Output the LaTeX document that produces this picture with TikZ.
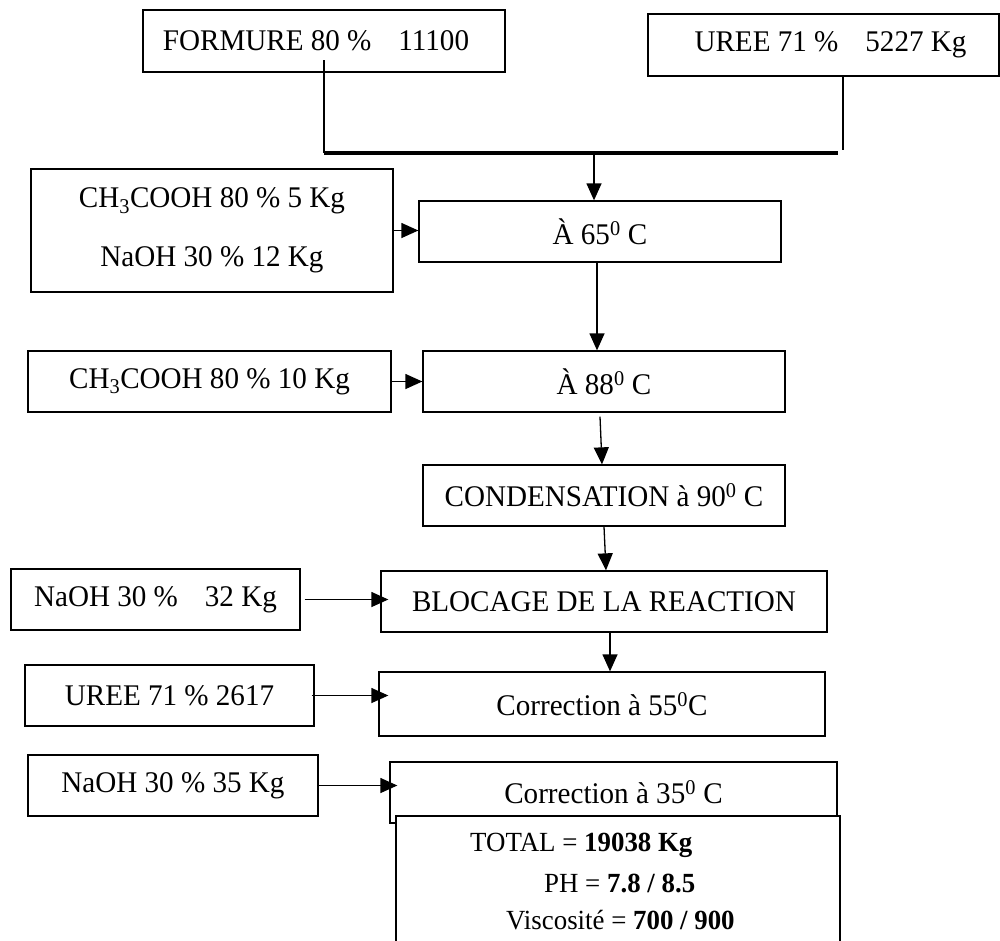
\documentclass[tikz,border=0pt]{standalone}
\usepackage{fontspec}
\setmainfont{Liberation Serif}[FakeStretch=0.97]
\usetikzlibrary{arrows.meta}

\begin{document}
\begin{tikzpicture}[x=1pt,y=-1pt,
  box/.style={draw, line width=1.3pt, rectangle, inner sep=0pt, fill=white,
              font=\fontsize{30}{36}\selectfont},
  sumtxt/.style={inner sep=0pt, font=\fontsize{27.7}{32}\selectfont},
  link/.style={line width=1.3pt},
  arr/.style={line width=1.3pt, -{Triangle[length=17pt,width=15pt]}}]
\useasboundingbox[fill=white] (0,0) rectangle (1000,940);

% raw materials at the top
\node[box, minimum width=362pt, minimum height=62pt] (formure) at (324,41)
  {\hspace*{-16pt}FORMURE 80 \%\hspace{0.9em}11100};
\node[box, minimum width=351pt, minimum height=62pt] (uree) at (823.5,45)
  {\hspace*{14pt}UREE 71 \%\hspace{0.9em}5227 Kg};

% process steps
\node[box, minimum width=362pt, minimum height=123pt, align=center] (mix) at (212,230.5)
  {CH\textsubscript{3}COOH 80 \% 5 Kg\\[23pt]NaOH 30 \% 12 Kg};
\node[box, minimum width=362pt, minimum height=61pt] (a65) at (600,231.5)
  {À 65\textsuperscript{0} C};
\node[box, minimum width=363pt, minimum height=61pt] (ch10) at (209.5,381.5)
  {CH\textsubscript{3}COOH 80 \% 10 Kg};
\node[box, minimum width=362pt, minimum height=61pt] (a88) at (604,381.5)
  {À 88\textsuperscript{0} C};
\node[box, minimum width=362pt, minimum height=61pt] (cond) at (604,495.5)
  {CONDENSATION à 90\textsuperscript{0} C};
\node[box, minimum width=289pt, minimum height=61pt] (naoh32) at (155.5,599.5)
  {NaOH 30 \%\hspace{0.9em}32 Kg};
\node[box, minimum width=446pt, minimum height=61pt] (block) at (604,601.5)
  {BLOCAGE DE LA REACTION};
\node[box, minimum width=289pt, minimum height=61pt] (uree2) at (169.5,695.5)
  {UREE 71 \% 2617};
\node[box, minimum width=446pt, minimum height=64pt] (corr55) at (602,704)
  {Correction à 55\textsuperscript{0}C};
\node[box, minimum width=290pt, minimum height=61pt] (naoh35) at (173,785.5)
  {NaOH 30 \% 35 Kg};
\node[box, minimum width=447pt, minimum height=61pt] (corr35) at (613.5,792.5)
  {Correction à 35\textsuperscript{0} C};

% final summary box, open at the bottom of the page
\node[box, minimum width=444pt, minimum height=150pt] (total) at (618,891) {};
\node[sumtxt, anchor=west] (tot1) at (470,845) {TOTAL = \textbf{19038 Kg}};
\node[sumtxt, anchor=west] (tot2) at (544,883) {PH = \textbf{7.8 / 8.5}};
\node[sumtxt, anchor=west] (tot3) at (506,920) {Viscosité = \textbf{700 / 900}};

% merging of the two raw materials
\coordinate (fdrop) at (324,60);
\coordinate (mL) at (324,153);
\coordinate (mR) at (838,153);
\coordinate (udrop) at (843,150);
\coordinate (mdrop) at (594,153);
\draw[link] (fdrop) -- (mL);
\draw[line width=4pt] (mL) -- (mR);
\draw[link] (uree.south -| udrop) -- (udrop);
\draw[arr] (mdrop) -- (mdrop |- a65.north);

% flow between the steps
\draw[arr] (mix.east) -- (mix.east -| a65.west);
\draw[arr] ([xshift=-3pt]a65.south) -- ([xshift=-7pt]a88.north);
\draw[arr] (ch10.east) -- (ch10.east -| a88.west);
\draw[arr] ([shift={(-4pt,-4pt)}]a88.south) -- ([xshift=-2pt]cond.north);
\draw[arr] (cond.south) -- ([xshift=2pt]block.north);
\draw[arr, shorten >=-4pt] ([xshift=4pt]naoh32.east) -- ([xshift=4pt]naoh32.east -| block.west);
\draw[arr] ([xshift=6pt]block.south) -- ([xshift=8pt]corr55.north);
\draw[arr, shorten >=-13pt] ([xshift=-3pt]uree2.east) -- ([xshift=-3pt]uree2.east -| corr55.west);
\draw[arr, shorten >=-8pt] (naoh35.east) -- (naoh35.east -| corr35.west);
\end{tikzpicture}
\end{document}
